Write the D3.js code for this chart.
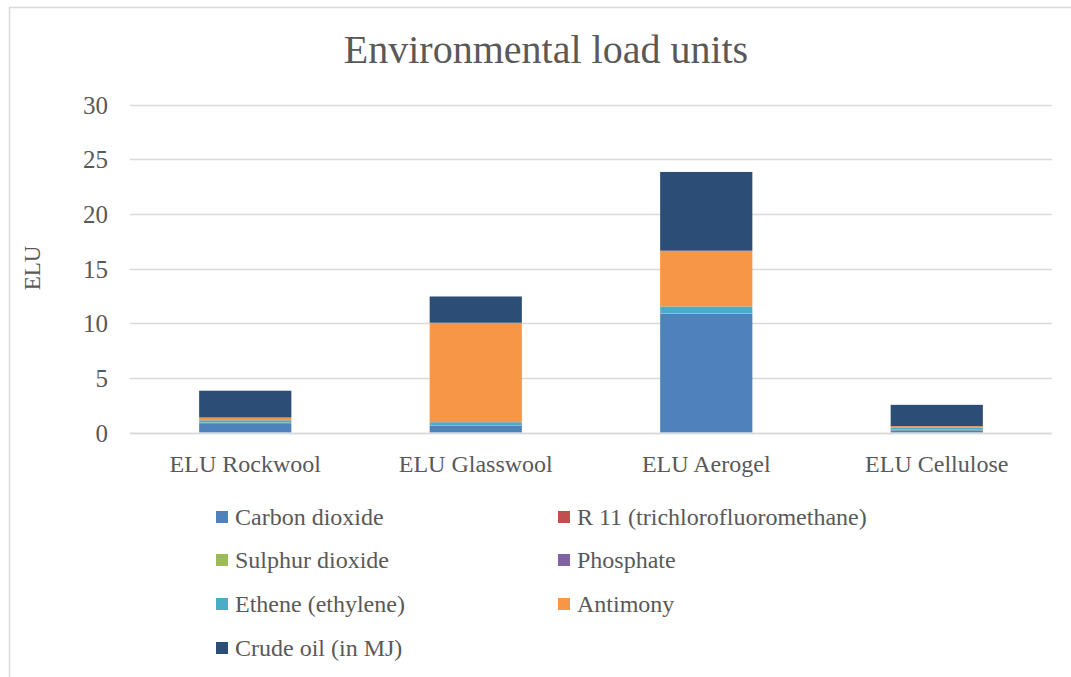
<!DOCTYPE html>
<html>
<head>
<meta charset="utf-8">
<script src="https://cdn.jsdelivr.net/npm/d3@7"></script>
<style>
html,body{margin:0;padding:0;background:#fff;}
svg{display:block;font-family:"Liberation Serif","DejaVu Serif",serif;}
</style>
</head>
<body>
<svg id="chart" width="1071" height="677"></svg>
<script>
const categories = ["ELU Rockwool", "ELU Glasswool", "ELU Aerogel", "ELU Cellulose"];
const seriesNames = ["Carbon dioxide", "R 11 (trichlorofluoromethane)", "Sulphur dioxide", "Phosphate", "Ethene (ethylene)", "Antimony", "Crude oil (in MJ)"];
const seriesColors = ["#4f81bd", "#c0504d", "#9bbb59", "#8064a2", "#4bacc6", "#f79646", "#2c4d75"];
const carbonDioxide = [0.85, 0.6, 10.85, 0.2];
const r11 = [0.01, 0.01, 0.01, 0.01];
const sulphurDioxide = [0.05, 0.02, 0.06, 0.04];
const phosphate = [0.01, 0.01, 0.01, 0.01];
const ethene = [0.2, 0.3, 0.6, 0.2];
const antimony = [0.25, 9.1, 5.1, 0.12];
const crudeOil = [2.45, 2.4, 7.2, 1.95];
const yTicks = [0, 5, 10, 15, 20, 25, 30];

const seriesValues = [carbonDioxide, r11, sulphurDioxide, phosphate, ethene, antimony, crudeOil];
const table = categories.map((c, i) => {
  const row = {category: c};
  seriesNames.forEach((s, j) => row[s] = seriesValues[j][i]);
  return row;
});

const svg = d3.select("#chart");
const m = {left: 130, right: 1052, top: 104.5, bottom: 432.5};
const textColor = "#595959";

// outer border
svg.append("path").attr("d", "M9.5,677 V7.5 H1071").attr("fill", "none").attr("stroke", "#d9d9d9").attr("stroke-width", 1.5);

const x = d3.scaleBand().domain(categories).range([m.left, m.right]).paddingInner(0.6).paddingOuter(0.3);
const y = d3.scaleLinear().domain([0, 30]).range([m.bottom, m.top]);

// gridlines
svg.append("g").selectAll("line").data(yTicks).join("line")
  .attr("x1", m.left).attr("x2", m.right)
  .attr("y1", d => Math.round(y(d)) + 0.5).attr("y2", d => Math.round(y(d)) + 0.5)
  .attr("stroke", "#d9d9d9").attr("stroke-width", 1.3);

// y labels
const yAxis = d3.axisLeft(y).tickValues(yTicks).tickSize(0).tickPadding(0);
const gy = svg.append("g").attr("transform", `translate(${m.left - 22},0)`).call(yAxis);
gy.select(".domain").remove();
gy.selectAll("text").attr("font-size", 25).attr("fill", textColor).attr("font-family", "Liberation Serif, serif").attr("dy", "0.34em");

// stacked bars
const stack = d3.stack().keys(seriesNames);
const stacked = stack(table);
svg.append("g").selectAll("g").data(stacked).join("g")
  .attr("fill", (d, i) => seriesColors[i])
  .selectAll("rect").data(d => d).join("rect")
  .attr("x", d => x(d.data.category))
  .attr("width", x.bandwidth())
  .attr("y", d => y(d[1]))
  .attr("height", d => Math.max(0, y(d[0]) - y(d[1])));

// x axis baseline
svg.append("line").attr("x1", m.left).attr("x2", m.right)
  .attr("y1", Math.round(y(0)) + 0.5).attr("y2", Math.round(y(0)) + 0.5)
  .attr("stroke", "#d9d9d9").attr("stroke-width", 1.3);

// x labels
const xAxis = d3.axisBottom(x).tickSize(0).tickPadding(0);
const gx = svg.append("g").attr("transform", `translate(0,${m.bottom + 39})`).call(xAxis);
gx.select(".domain").remove();
gx.selectAll("text").attr("font-size", 24).attr("fill", textColor).attr("font-family", "Liberation Serif, serif").attr("dy", 0);

// title
svg.append("text").attr("x", 546).attr("y", 63).attr("text-anchor", "middle")
  .attr("font-size", 40).attr("fill", textColor).text("Environmental load units");

// y axis title
svg.append("text").attr("transform", "translate(40,268) rotate(-90)").attr("text-anchor", "middle")
  .attr("font-size", 23).attr("fill", textColor).text("ELU");

// legend
const legendX = [216, 558];
const legendY = [517, 560, 604, 648];
const lg = svg.append("g").selectAll("g").data(seriesNames).join("g")
  .attr("transform", (d, i) => `translate(${legendX[i % 2]},${legendY[Math.floor(i / 2)]})`);
lg.append("rect").attr("x", 0).attr("y", -6).attr("width", 12).attr("height", 12)
  .attr("fill", (d, i) => seriesColors[i]);
lg.append("text").attr("x", 19).attr("y", 8).attr("font-size", 24).attr("fill", textColor).text(d => d);
</script>
</body>
</html>
